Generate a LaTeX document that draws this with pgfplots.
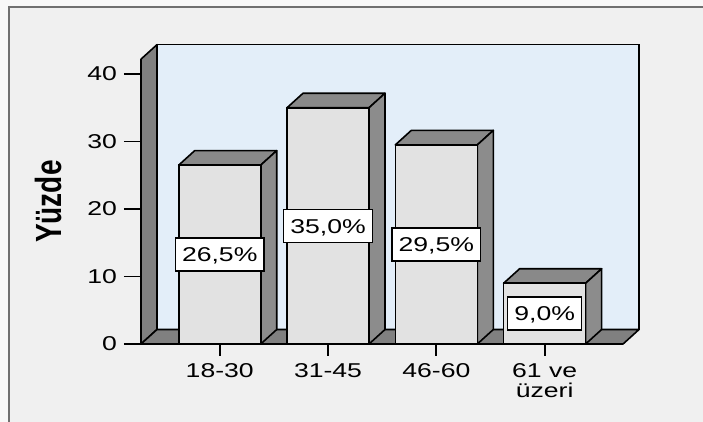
\documentclass[border=0pt]{standalone}
\usepackage{fontspec}
\setmainfont{Liberation Sans}[FakeStretch=1.33]
\newfontfamily\titlefont{Liberation Sans}
\usepackage{graphicx}
\usepackage{pgfplots}
\usepackage{pgfplotstable}
\pgfplotsset{compat=1.18}

\definecolor{outerbg}{HTML}{F8F8F8}
\definecolor{panelbg}{HTML}{F0F0F0}
\definecolor{frameline}{HTML}{707070}
\definecolor{wallblue}{HTML}{E3EEF9}
\definecolor{wallgray}{HTML}{808080}
\definecolor{barfront}{HTML}{E2E2E2}
\definecolor{bartop}{HTML}{898989}
\definecolor{barside}{HTML}{8C8C8C}

% an invisible plot mark for the label series
\pgfdeclareplotmark{blank}{%
  \pgfpathcircle{\pgfpointorigin}{0.01pt}\pgfusepath{}}

% geometry of the pseudo-3D bars, in axis units
% (x unit 54.15pt, y unit 3.375pt; bars 41pt wide, depth 8pt x 7.25pt)
\newcommand\hw{0.3786}
\newcommand\dx{0.1477}
\newcommand\dy{2.148}

\pgfplotstableread{
x v
0 26.5
1 35.0
2 29.5
3 9.0
}\agedata

\begin{document}
\begin{tikzpicture}
\useasboundingbox (0,0) rectangle (351.5pt,211pt);
\fill[outerbg] (0,0) rectangle (351.5pt,211pt);
\fill[panelbg] (4.25pt,-2pt) rectangle (360pt,207.5pt);
\draw[frameline, line width=1pt] (4.25pt,-2pt) -- (4.25pt,207.5pt) -- (360pt,207.5pt);

\begin{axis}[
  at={(70.5pt,39pt)}, anchor=south west,
  x=54.15pt, y=3.375pt,
  xmin=-0.727, xmax=3.724, ymin=0, ymax=42.2,
  clip=false,
  axis x line*=bottom, axis y line*=left,
  axis line style={draw=none},
  xtick={0,1,2,3},
  xticklabels={18-30,31-45,46-60,{61 ve\\üzeri}},
  xticklabel style={align=center, font=\fontsize{10}{10}\selectfont, yshift=2.5pt},
  xtick style={yshift=2.5pt},
  ytick={0,10,20,30,40},
  yticklabel style={font=\fontsize{10}{10}\selectfont},
  tick align=outside,
  major tick length=8.5pt,
  tick style={black, line width=0.9pt},
  /pgf/number format/assume math mode=true,
  ylabel={\scalebox{1}[1.3]{\titlefont\bfseries\fontsize{14}{14}\selectfont Yüzde}},
  every axis y label/.style={at={(rel axis cs:0,0.5)}, xshift=-46.25pt, rotate=90, anchor=center},
]

% back wall, left wall and floor of the box
\fill[wallblue, draw=black, line width=0.8pt]
  ([shift={(8pt,7.25pt)}]rel axis cs:0,0) rectangle ([shift={(8pt,7.25pt)}]rel axis cs:1,1);
\fill[wallgray, draw=black, line width=0.8pt, line join=round]
  (rel axis cs:0,0) -- (rel axis cs:0,1) -- ([shift={(8pt,7.25pt)}]rel axis cs:0,1)
  -- ([shift={(8pt,7.25pt)}]rel axis cs:0,0) -- cycle;
\fill[wallgray, draw=black, line width=0.8pt, line join=round]
  (rel axis cs:0,0) -- (rel axis cs:1,0) -- ([shift={(8pt,7.25pt)}]rel axis cs:1,0)
  -- ([shift={(8pt,7.25pt)}]rel axis cs:0,0) -- cycle;

% top and side faces of each bar, built from its value in the table
\pgfplotsforeachungrouped \i in {0,1,2,3}{%
  \pgfplotstablegetelem{\i}{v}\of\agedata
  \let\val\pgfplotsretval
  \pgfmathsetmacro\xa{\i-\hw}%
  \pgfmathsetmacro\xb{\i+\hw}%
  \pgfmathsetmacro\xc{\i+\hw+\dx}%
  \pgfmathsetmacro\xd{\i-\hw+\dx}%
  \pgfmathsetmacro\yt{\val+\dy}%
  \edef\barfaces{%
    \noexpand\addplot[fill=bartop, draw=black, line width=0.8pt, line join=round]
      coordinates {(\xa,\val) (\xb,\val) (\xc,\yt) (\xd,\yt)} -- cycle;
    \noexpand\addplot[fill=barside, draw=black, line width=0.8pt, line join=round]
      coordinates {(\xb,\val) (\xc,\yt) (\xc,\dy) (\xb,0)} -- cycle;
  }%
  \barfaces
}

% front faces
\addplot[ybar, bar width=41pt, fill=barfront, draw=black, line width=0.8pt]
  table[x=x, y=v] {\agedata};

% value labels halfway up each bar
\addplot[only marks, mark=blank, point meta=explicit,
  nodes near coords={\pgfmathprintnumber[fixed, fixed zerofill, precision=1, use comma]{\pgfplotspointmeta}\%},
  every node near coord/.append style={anchor=center, fill=white, draw=black, line width=0.7pt,
    inner xsep=3.3pt, inner ysep=0pt, minimum height=16.5pt, text height=7.2pt, text depth=0pt,
    font=\fontsize{10}{10}\selectfont},
] table[x=x, y expr=\thisrow{v}/2, meta=v] {\agedata};

\end{axis}
\end{tikzpicture}
\end{document}
